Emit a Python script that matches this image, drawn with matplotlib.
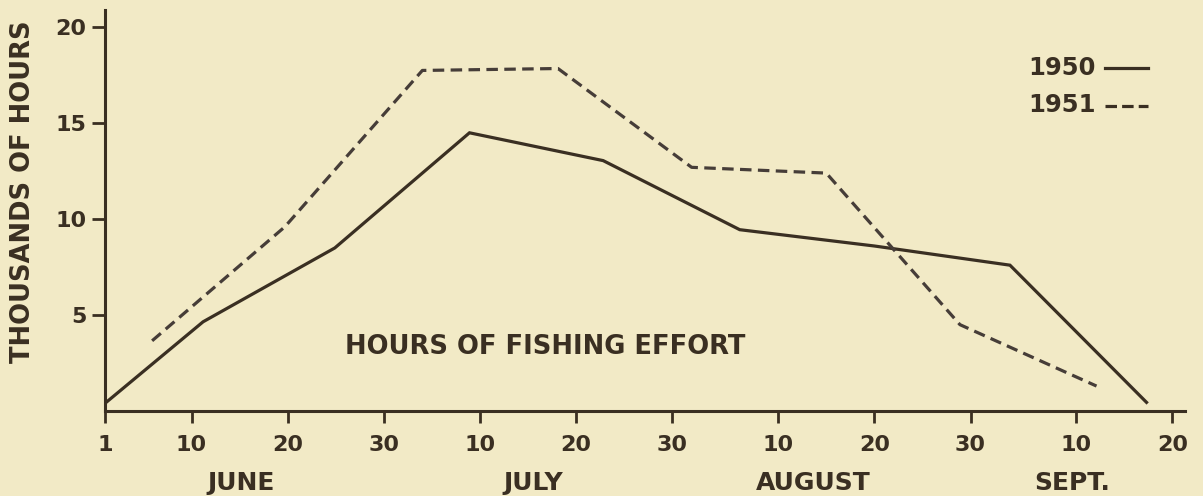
import matplotlib
matplotlib.use("Agg")
import matplotlib.pyplot as plt
import matplotlib.transforms as mtransforms

# Days counted from June 1 (June 1 = 0)
days_1950 = [0, 10.2, 23.9, 37.9, 51.8, 66.0, 80.0, 94.1, 108.3]
hours_1950 = [0.4, 4.65, 8.5, 14.5, 13.05, 9.45, 8.6, 7.6, 0.45]

days_1951 = [4.9, 18.7, 33.0, 47.1, 61.0, 75.0, 88.9, 103.1]
hours_1951 = [3.66, 9.6, 17.75, 17.85, 12.7, 12.4, 4.5, 1.3]

tick_days = [0, 9, 19, 29, 39, 49, 59, 70, 80, 90, 101, 111]
tick_labels = ["1", "10", "20", "30", "10", "20", "30", "10", "20", "30", "10", "20"]

month_names = ["JUNE", "JULY", "AUGUST", "SEPT."]
month_pos = [14.2, 44.5, 73.6, 100.6]

y_ticks = [5, 10, 15, 20]

bg = "#F2EAC6"
ink = "#3A2F22"
ink2 = "#463D38"

plt.rcParams["font.family"] = ["DejaVu Sans"]

fig = plt.figure(figsize=(12.03, 4.96), dpi=100, facecolor=bg)
ax = fig.add_axes([105 / 1203, 1 - 411 / 496, (1185 - 105) / 1203, (411 - 10) / 496])
ax.set_facecolor(bg)

ax.plot(days_1950, hours_1950, color=ink, lw=2.3, solid_joinstyle="miter")
ax.plot(days_1951, hours_1951, color=ink2, lw=2.3, linestyle=(0, (3.6, 2.0)))

ax.set_xlim(0, 112.3)
ax.set_ylim(0, 20.9)

for side in ["top", "right"]:
    ax.spines[side].set_visible(False)
for side in ["left", "bottom"]:
    ax.spines[side].set_color(ink)
    ax.spines[side].set_linewidth(2.2)

ax.set_xticks(tick_days)
ax.set_xticklabels(tick_labels, fontsize=16, fontweight="bold", color=ink)
ax.set_yticks(y_ticks)
ax.set_yticklabels([str(v) for v in y_ticks], fontsize=16, fontweight="bold", color=ink)
ax.tick_params(axis="x", direction="out", length=8.5, width=2, color=ink, pad=9)
ax.tick_params(axis="y", direction="out", length=9.5, width=2, color=ink, pad=4)

trans = mtransforms.blended_transform_factory(ax.transData, fig.transFigure)
for name, pos in zip(month_names, month_pos):
    ax.text(pos, 1 - 483 / 496, name, transform=trans, ha="center", va="center",
            fontsize=18, fontweight="bold", color=ink)

fig.text(23 / 1203, 1 - 192 / 496, "THOUSANDS OF HOURS", rotation=90, ha="center",
         va="center", fontsize=18.5, fontweight="bold", color=ink)

fig.text((343 + 748) / 2 / 1203, 1 - 347 / 496, "HOURS OF FISHING EFFORT",
         ha="center", va="center", fontsize=18.5, fontweight="bold", color=ink)

# legend drawn as text + line samples
fig.text(1096 / 1203, 1 - 68 / 496, "1950", ha="right", va="center", fontsize=17.5,
         fontweight="bold", color=ink)
fig.text(1096 / 1203, 1 - 105 / 496, "1951", ha="right", va="center", fontsize=17.5,
         fontweight="bold", color=ink)
fig.add_artist(plt.Line2D([1105 / 1203, 1148 / 1203], [1 - 68 / 496, 1 - 68 / 496],
                          transform=fig.transFigure, color=ink, lw=2.3))
fig.add_artist(plt.Line2D([1105 / 1203, 1148 / 1203], [1 - 106 / 496, 1 - 106 / 496],
                          transform=fig.transFigure, color=ink, lw=2.3,
                          linestyle=(0, (3.6, 1.6))))

fig.savefig("out.png", dpi=100, facecolor=bg)
